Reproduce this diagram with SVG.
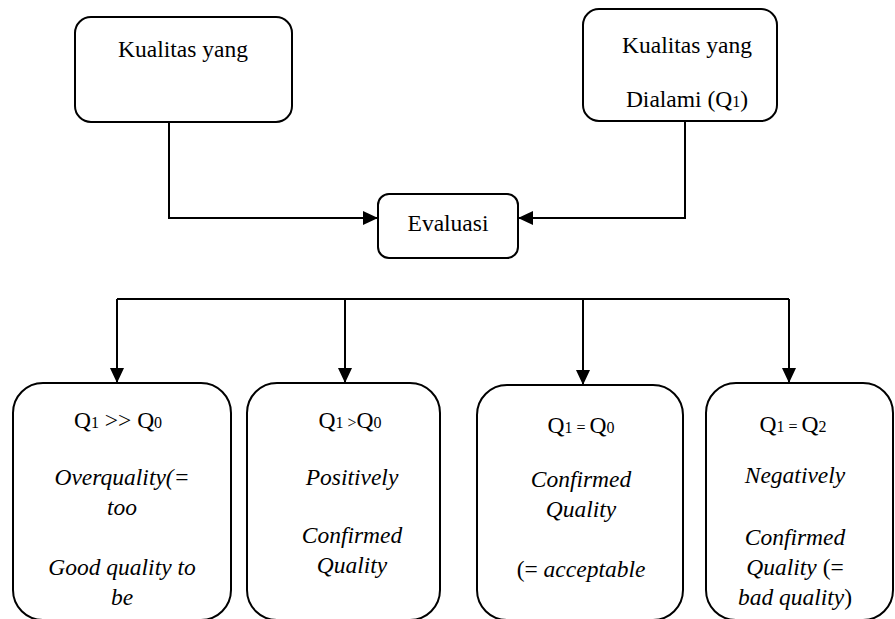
<svg xmlns="http://www.w3.org/2000/svg" width="895" height="619" viewBox="0 0 895 619">
<style>
.box{fill:#fff;stroke:#000;stroke-width:2}
.ln{fill:none;stroke:#000;stroke-width:2}
text{font-family:'Liberation Serif','Times New Roman',Times,'DejaVu Serif',serif;font-size:23.5px;fill:#000;text-anchor:middle}
.it{font-style:italic}
.sub{font-size:16px}
</style>
<defs>
<marker id="ah" viewBox="0 0 15 14" refX="15" refY="7" markerWidth="15" markerHeight="14" markerUnits="userSpaceOnUse" orient="auto">
<path d="M0,0 L15,7 L0,14 Z" fill="#000"/>
</marker>
</defs>
<rect width="895" height="619" fill="#fff"/>
<g id="connectors">
<path class="ln" d="M169,122 V218 H378" marker-end="url(#ah)"/>
<path class="ln" d="M685,121 V218 H518" marker-end="url(#ah)"/>
<path class="ln" d="M117,299 H789"/>
<path class="ln" d="M117,299 V383" marker-end="url(#ah)"/>
<path class="ln" d="M345,299 V383" marker-end="url(#ah)"/>
<path class="ln" d="M583,299 V385" marker-end="url(#ah)"/>
<path class="ln" d="M789,299 V383" marker-end="url(#ah)"/>
</g>
<g font-family="Liberation Serif, Times New Roman, serif">
<g id="n-expected">
<rect class="box" x="75" y="17" width="217" height="105" rx="16"/>
<text x="183" y="57">Kualitas yang</text>
</g>
<g id="n-experienced">
<rect class="box" x="583" y="9" width="194" height="112" rx="16"/>
<text x="687" y="53">Kualitas yang</text>
<text x="687" y="107">Dialami (Q<tspan class="sub">1</tspan>)</text>
</g>
<g id="n-evaluasi">
<rect class="box" x="378" y="194" width="140" height="64" rx="11"/>
<text x="448" y="231">Evaluasi</text>
</g>
<g id="n-over">
<rect class="box" x="13" y="383" width="218" height="237" rx="30"/>
<text x="118" y="428">Q<tspan class="sub">1</tspan> &gt;&gt; Q<tspan class="sub">0</tspan></text>
<text class="it" x="122" y="485">Overquality(=</text>
<text class="it" x="122" y="515">too</text>
<text class="it" x="122" y="575">Good quality to</text>
<text class="it" x="122" y="605">be</text>
</g>
<g id="n-positive">
<rect class="box" x="247" y="383" width="193" height="237" rx="30"/>
<text x="350" y="428">Q<tspan class="sub">1 &gt;</tspan>Q<tspan class="sub">0</tspan></text>
<text class="it" x="352" y="485">Positively</text>
<text class="it" x="352" y="543">Confirmed</text>
<text class="it" x="352" y="573">Quality</text>
</g>
<g id="n-confirmed">
<rect class="box" x="477" y="385" width="206" height="235" rx="30"/>
<text x="581" y="433">Q<tspan class="sub">1 = </tspan>Q<tspan class="sub">0</tspan></text>
<text class="it" x="581" y="487">Confirmed</text>
<text class="it" x="581" y="517">Quality</text>
<text x="581" y="577">(= <tspan class="it">acceptable</tspan></text>
</g>
<g id="n-negative">
<rect class="box" x="706" y="383" width="187" height="237" rx="30"/>
<text x="793" y="432">Q<tspan class="sub">1 = </tspan>Q<tspan class="sub">2</tspan></text>
<text class="it" x="795" y="483">Negatively</text>
<text class="it" x="795" y="545">Confirmed</text>
<text x="795" y="575"><tspan class="it">Quality</tspan> (=</text>
<text x="795" y="605"><tspan class="it">bad quality</tspan>)</text>
</g>
</g>
</svg>
